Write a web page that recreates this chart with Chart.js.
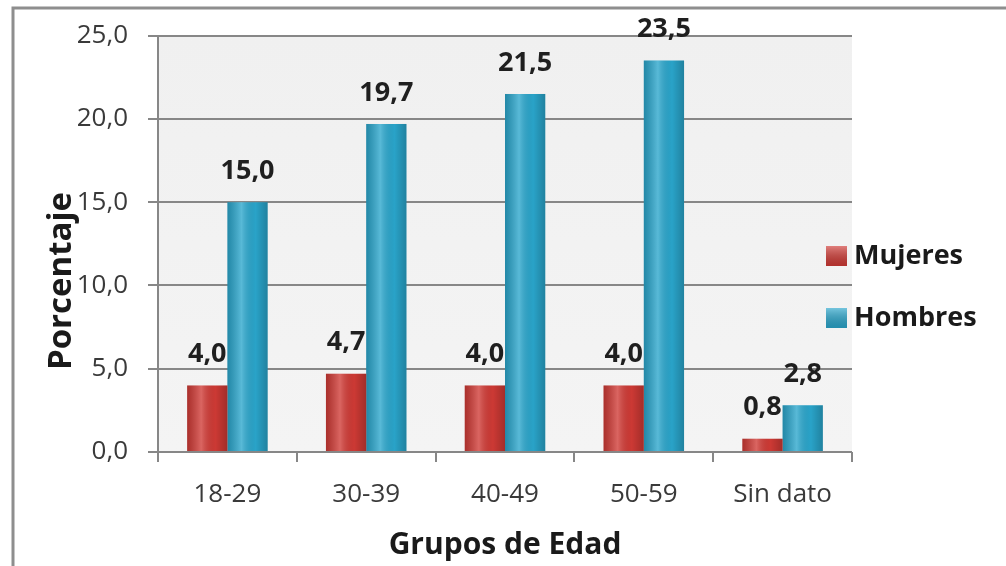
<!DOCTYPE html>
<html>
<head>
<meta charset="utf-8">
<script src="https://cdn.jsdelivr.net/npm/chart.js"></script>
<style>
  html, body { margin: 0; padding: 0; background: #fff; }
  #wrap { width: 1006px; height: 566px; }
</style>
</head>
<body>
<div id="wrap"><canvas id="chart" width="1006" height="566"></canvas></div>
<script>
const groups = ["18-29", "30-39", "40-49", "50-59", "Sin dato"];
const mujeres = [4.0, 4.7, 4.0, 4.0, 0.8];
const hombres = [15.0, 19.7, 21.5, 23.5, 2.8];
const yTicks = [0, 5, 10, 15, 20, 25];

const FONT = "'Open Sans', 'Liberation Sans', sans-serif";
const GRID = "#878787";

const fmt = (v) => v.toFixed(1).replace(".", ",");

// frame, plot background, bar shading, value labels, y title, legend
const decor = {
  id: "decor",
  beforeDraw(chart) {
    const { ctx, chartArea: a } = chart;
    ctx.save();
    const bg = ctx.createLinearGradient(0, a.top, 0, a.bottom);
    bg.addColorStop(0, "#f0f0f0");
    bg.addColorStop(1, "#f4f4f4");
    ctx.fillStyle = bg;
    ctx.fillRect(a.left, a.top, a.right - a.left, a.bottom - a.top);
    ctx.strokeStyle = "#8e8e8e";
    ctx.lineWidth = 3;
    ctx.beginPath();
    ctx.moveTo(13, chart.height);
    ctx.lineTo(13, 8);
    ctx.lineTo(chart.width, 8);
    ctx.stroke();
    ctx.restore();
  },
  afterDatasetsDraw(chart) {
    const { ctx } = chart;
    ctx.save();
    chart.data.datasets.forEach((ds, di) => {
      chart.getDatasetMeta(di).data.forEach((bar, i) => {
        const w = bar.width;
        const x0 = bar.x - w / 2;
        const g = ctx.createLinearGradient(x0, 0, x0 + w, 0);
        g.addColorStop(0, "rgba(0,0,0,0.18)");
        g.addColorStop(0.35, "rgba(255,255,255,0.22)");
        g.addColorStop(0.7, "rgba(0,0,0,0.02)");
        g.addColorStop(1, "rgba(0,0,0,0.22)");
        ctx.fillStyle = g;
        ctx.fillRect(x0, bar.y, w, bar.base - bar.y);
        ctx.font = "bold 27px " + FONT;
        ctx.fillStyle = "#1f1f1f";
        ctx.textAlign = "center";
        ctx.textBaseline = "middle";
        ctx.fillText(fmt(ds.data[i]), bar.x, bar.y - 31);
      });
    });

    // y axis title
    ctx.translate(62, 281);
    ctx.rotate(-Math.PI / 2);
    ctx.font = "bold 33px " + FONT;
    ctx.fillStyle = "#1a1a1a";
    ctx.textAlign = "center";
    ctx.textBaseline = "middle";
    ctx.fillText("Porcentaje", 0, 0);
    ctx.restore();

    // legend
    ctx.save();
    const items = [
      { label: chart.data.datasets[0].label, color: chart.data.datasets[0].backgroundColor, y: 256 },
      { label: chart.data.datasets[1].label, color: chart.data.datasets[1].backgroundColor, y: 318 },
    ];
    items.forEach((it) => {
      ctx.fillStyle = it.color;
      ctx.fillRect(826, it.y - 10, 21, 20);
      const g = ctx.createLinearGradient(0, it.y - 10, 0, it.y + 10);
      g.addColorStop(0, "rgba(255,255,255,0.35)");
      g.addColorStop(1, "rgba(0,0,0,0.15)");
      ctx.fillStyle = g;
      ctx.fillRect(826, it.y - 10, 21, 20);
      ctx.font = "bold 27px " + FONT;
      ctx.fillStyle = "#1a1a1a";
      ctx.textAlign = "left";
      ctx.textBaseline = "middle";
      ctx.fillText(it.label, 854, it.y);
    });
    ctx.restore();
  },
};

new Chart(document.getElementById("chart"), {
  type: "bar",
  data: {
    labels: groups,
    datasets: [
      { label: "Mujeres", data: mujeres, backgroundColor: "#d03a35" },
      { label: "Hombres", data: hombres, backgroundColor: "#2aa6cc" },
    ],
  },
  options: {
    responsive: false,
    animation: false,
    events: [],
    layout: { padding: { left: 14, top: 34, right: 154, bottom: 0 } },
    datasets: { bar: { categoryPercentage: 0.58, barPercentage: 1.0 } },
    plugins: { legend: { display: false }, tooltip: { enabled: false } },
    scales: {
      x: {
        grid: { offset: true, drawOnChartArea: false, drawTicks: true, tickLength: 10, color: GRID, lineWidth: 2 },
        border: { display: false },
        ticks: { font: { family: FONT, size: 26 }, color: "#3a3a3a", padding: 17 },
        title: {
          display: true,
          text: "Grupos de Edad",
          font: { family: FONT, size: 30, weight: "bold" },
          color: "#1a1a1a",
          padding: { top: 0, bottom: 3 },
        },
        afterFit: (s) => { s.height = 114; },
      },
      y: {
        min: 0,
        max: 25,
        afterBuildTicks: (s) => { s.ticks = yTicks.map((v) => ({ value: v })); },
        grid: { color: GRID, lineWidth: 2, tickLength: 10 },
        border: { display: true, color: GRID, width: 2 },
        ticks: {
          font: { family: FONT, size: 26 },
          color: "#3a3a3a",
          padding: 20,
          callback: (v) => fmt(v),
        },
        afterFit: (s) => { s.width = 144; },
      },
    },
  },
  plugins: [decor],
});
</script>
</body>
</html>
